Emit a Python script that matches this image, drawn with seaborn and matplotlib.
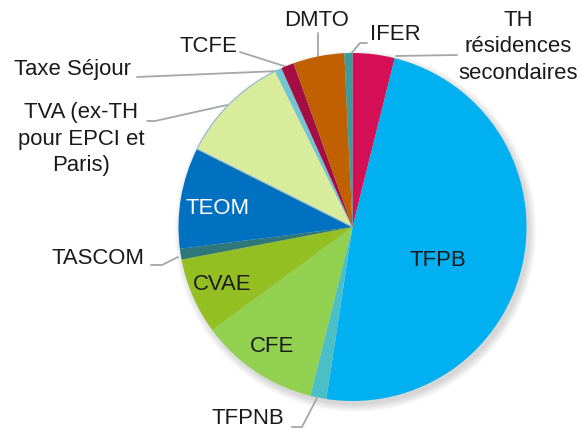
import matplotlib
matplotlib.use("Agg")
import matplotlib.pyplot as plt
import seaborn as sns
from matplotlib.patches import Circle

sns.set_theme(style="white")
plt.rcParams['font.family'] = ['Liberation Sans', 'DejaVu Sans']

# ---- data (share of total, %) ----
categories = ["TH\nrésidences\nsecondaires", "TFPB", "TFPNB", "CFE", "CVAE", "TASCOM",
              "TEOM", "TVA (ex-TH\npour EPCI et\nParis)", "Taxe Séjour", "TCFE", "DMTO", "IFER"]
values = [3.9, 48.5, 1.5, 11.0, 7.1, 1.0, 9.4, 10.3, 0.6, 1.2, 4.75, 0.75]
colors = ["#D50F55", "#00B0F0", "#4BBFC6", "#92D050", "#93BF22", "#2F7879",
          "#0070C0", "#D8EC9B", "#6FC7D6", "#A50D45", "#C06000", "#3A9C9C"]

W, H = 582, 430
fig = plt.figure(figsize=(W / 100, H / 100), dpi=100)
ax = fig.add_axes([0, 0, 1, 1])

cx, cy, R = 352.5, H - 227, 174

# soft shadow
for k in range(8):
    ax.add_patch(Circle((cx + 3, cy - 4), R + 7 - k, color="#000000", alpha=0.018, lw=0, zorder=0))

wedges, _ = ax.pie(values, colors=colors, startangle=90, counterclock=False,
                   center=(cx, cy), radius=R, wedgeprops=dict(linewidth=0))
for w in wedges:
    w.set_zorder(2)
wedges[7].set_edgecolor("#8DB8DA")
wedges[7].set_linewidth(0.8)

ax.set_xlim(0, W)
ax.set_ylim(0, H)
ax.set_aspect("equal")
ax.axis("off")

fs = 15.9
tc = "#1A1A1A"
ls = 1.33

def P(x, y):
    return x, H - y

# inside labels
ax.text(*P(438, 261), "TFPB", ha="center", va="center", fontsize=fs, color=tc, zorder=5)
ax.text(*P(272, 346), "CFE", ha="center", va="center", fontsize=fs, color=tc, zorder=5)
ax.text(*P(222, 284), "CVAE", ha="center", va="center", fontsize=fs, color=tc, zorder=5)
ax.text(*P(218, 208), "TEOM", ha="center", va="center", fontsize=fs, color="white", zorder=5)

# outside labels
ax.text(*P(518, 47), categories[0], ha="center", va="center", fontsize=fs, color=tc,
        linespacing=ls, zorder=5)
ax.text(*P(395, 34), categories[11], ha="center", va="center", fontsize=fs, color=tc, zorder=5)
ax.text(*P(317, 21), categories[10], ha="center", va="center", fontsize=fs, color=tc, zorder=5)
ax.text(*P(208, 46), categories[9], ha="center", va="center", fontsize=fs, color=tc, zorder=5)
ax.text(*P(72, 70), categories[8], ha="center", va="center", fontsize=fs, color=tc, zorder=5)
ax.text(*P(81, 139), categories[7], ha="center", va="center", fontsize=fs, color=tc,
        linespacing=ls, zorder=5)
ax.text(*P(98, 258), categories[5], ha="center", va="center", fontsize=fs, color=tc, zorder=5)
ax.text(*P(248, 419), categories[2], ha="center", va="center", fontsize=fs, color=tc, zorder=5)

# leader lines
lc = "#A6A6A6"
leaders = [
    [(457, 55), (396, 56)],
    [(367, 43), (360, 43), (349, 56)],
    [(318, 33), (318, 57)],
    [(240, 52), (287, 67)],
    [(137, 77), (279, 71)],
    [(147, 121), (155, 121), (227, 105)],
    [(151, 265), (162, 265), (178, 257)],
    [(292, 427), (302, 427), (317, 398)],
]
for pts in leaders:
    xs = [p[0] for p in pts]
    ys = [H - p[1] for p in pts]
    ax.plot(xs, ys, color=lc, lw=1.3, zorder=1)

fig.savefig("out.png", dpi=100)
